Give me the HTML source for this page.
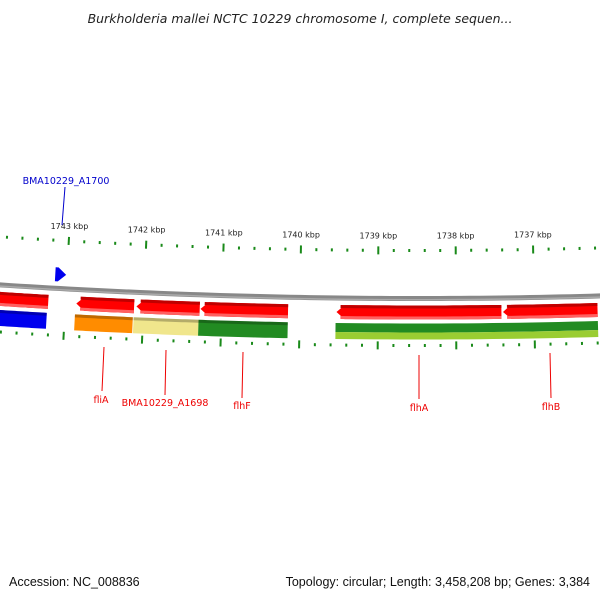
<!DOCTYPE html>
<html><head><meta charset="utf-8"><style>
body{margin:0;background:#fff}
svg{display:block;font-family:"Liberation Sans",sans-serif}
</style></head><body>
<svg id="map" width="600" height="600" viewBox="0 0 600 600" xmlns="http://www.w3.org/2000/svg">
<rect width="600" height="600" fill="#fff"/>
<text x="300" y="23" text-anchor="middle" font-size="12.5" font-style="italic" fill="#222" font-family="DejaVu Sans, sans-serif">Burkholderia mallei NCTC 10229 chromosome I, complete sequen...</text>
<text x="9" y="586" font-size="12.5" fill="#111">Accession: NC_008836</text>
<text x="590" y="586" text-anchor="end" font-size="12.5" fill="#111">Topology: circular; Length: 3,458,208 bp; Genes: 3,384</text>
<g id="layer"></g>
</svg>
<script>
const tickKbp = [1743,1742,1741,1740,1739,1738,1737];
const redGenes = [[1743.85,1743.22,0],[1742.86,1742.12,1],[1742.09,1741.28,1],[1741.27,1740.15,1],[1739.53,1737.42,1],[1737.40,1736.19,1]];
const cogGenes = [[1743.85,1743.23,'#0000ee'],[1742.87,1742.13,'#ff8c00'],[1742.12,1741.29,'#f0e68c'],[1741.29,1740.15,'#228b22']];
const cogSplit = [[1739.54,1736.19]];
const fwdGenes = [[1743.15,1743.01]];
const labels = [
 {t:'BMA10229_A1700',c:'#0000cc',x:66,y:184,l:[65,187,62,225]},
 {t:'fliA',c:'#e00',x:101,y:403,l:[104,347,102,391]},
 {t:'BMA10229_A1698',c:'#e00',x:165,y:406,l:[166,350,165,395]},
 {t:'flhF',c:'#e00',x:242,y:409,l:[243,352,242,398]},
 {t:'flhA',c:'#e00',x:419,y:411,l:[419,355,419,399]},
 {t:'flhB',c:'#e00',x:551,y:410,l:[550,353,551,398]}
];
const NS='http://www.w3.org/2000/svg';
const layer=document.getElementById('layer');
const R=6430, CX=418, CY=298.5-6430;
function xOf(k){return 300-(k-1740)*78;}
function ang(k){return (xOf(k)-CX)/R;}
function pt(k,off){const a=ang(k),r=R-off;return [CX+r*Math.sin(a),CY+r*Math.cos(a)];}
function mk(tag,attrs){const e=document.createElementNS(NS,tag);for(const k in attrs)e.setAttribute(k,attrs[k]);layer.appendChild(e);return e;}
function band(k1,k2,o1,o2,arrow){
  const n=20;let pts=[];
  const aw=8/78;
  let ks=k1, ke=k2;
  if(arrow===1) ks=k1-aw;
  if(arrow===2) ke=k2+aw;
  for(let i=0;i<=n;i++){const k=ks+(ke-ks)*i/n;pts.push(pt(k,o1));}
  if(arrow===2) pts.push(pt(k2,(o1+o2)/2));
  for(let i=n;i>=0;i--){const k=ks+(ke-ks)*i/n;pts.push(pt(k,o2));}
  if(arrow===1) pts.push(pt(k1,(o1+o2)/2));
  return 'M'+pts.map(p=>p[0].toFixed(2)+','+p[1].toFixed(2)).join('L')+'Z';
}
let bb=[];for(let x=-20;x<=620;x+=10){const k=1740-(x-300)/78;bb.push(pt(k,0));}
const bd='M'+bb.map(p=>p[0].toFixed(2)+','+p[1].toFixed(2)).join('L');
let e=mk('path',{d:bd,fill:'none',stroke:'#888','stroke-width':5});


e=mk('path',{d:bd,fill:'none',stroke:'#aaa','stroke-width':1.5,transform:'translate(0,1.2)'});


for(let k=1744;k>=1736;k-=0.2){
  const kk=Math.round(k*10)/10;const x=xOf(kk);if(x<-5||x>605)continue;
  const major=Math.abs(kk-Math.round(kk))<0.01;
  [48,-47].forEach(o=>{
    const len=major?8:3;const p1=pt(kk,o+(major?4:1.5)),p2=pt(kk,o+(major?4:1.5)-len);
    const t=mk('line',{x1:p1[0],y1:p1[1],x2:p2[0],y2:p2[1],stroke:'#1a8a1a','stroke-width':2});
    
    
  });
}
tickKbp.forEach(k=>{const p=pt(k,60);const t=mk('text',{x:p[0],y:p[1],'text-anchor':'middle','font-size':8,fill:'#222','font-family':'DejaVu Sans, sans-serif'});t.textContent=k+' kbp';
  
  });
redGenes.forEach((g,i)=>{
  let p=mk('path',{d:band(g[0],g[1],-7,-21,g[2]),fill:'#ff0000'});
  
  
  p=mk('path',{d:band(g[0]-(g[2]?4/78:0),g[1],-7,-10,0),fill:'#c00000'});
  
  
  p=mk('path',{d:band(g[0]-(g[2]?4/78:0),g[1],-18,-21,0),fill:'#ff6060'});
  
  
});
cogGenes.forEach((g,i)=>{
  let p=mk('path',{d:band(g[0],g[1],-25,-41,0),fill:g[2]});
  
  
  p=mk('path',{d:band(g[0],g[1],-25,-28,0),fill:'#000','fill-opacity':0.25});
  
  
});
cogSplit.forEach((g,i)=>{
  let p=mk('path',{d:band(g[0],g[1],-25,-34,0),fill:'#228b22'});
  
  
  p=mk('path',{d:band(g[0],g[1],-34,-41,0),fill:'#9acd32'});
  
  
});
fwdGenes.forEach((g,i)=>{
  const p=mk('path',{d:band(g[0],g[1],7,21,2),fill:'#0000ee'});
  
  
});
labels.forEach(L=>{
  const ln=mk('line',{x1:L.l[0],y1:L.l[1],x2:L.l[2],y2:L.l[3],stroke:L.c,'stroke-width':1});
  
  
  const t=mk('text',{x:L.x,y:L.y,'text-anchor':'middle','font-size':9.5,fill:L.c,'font-family':'DejaVu Sans, sans-serif'});
  t.textContent=L.t;
  
  
});
</script>
</body></html>
